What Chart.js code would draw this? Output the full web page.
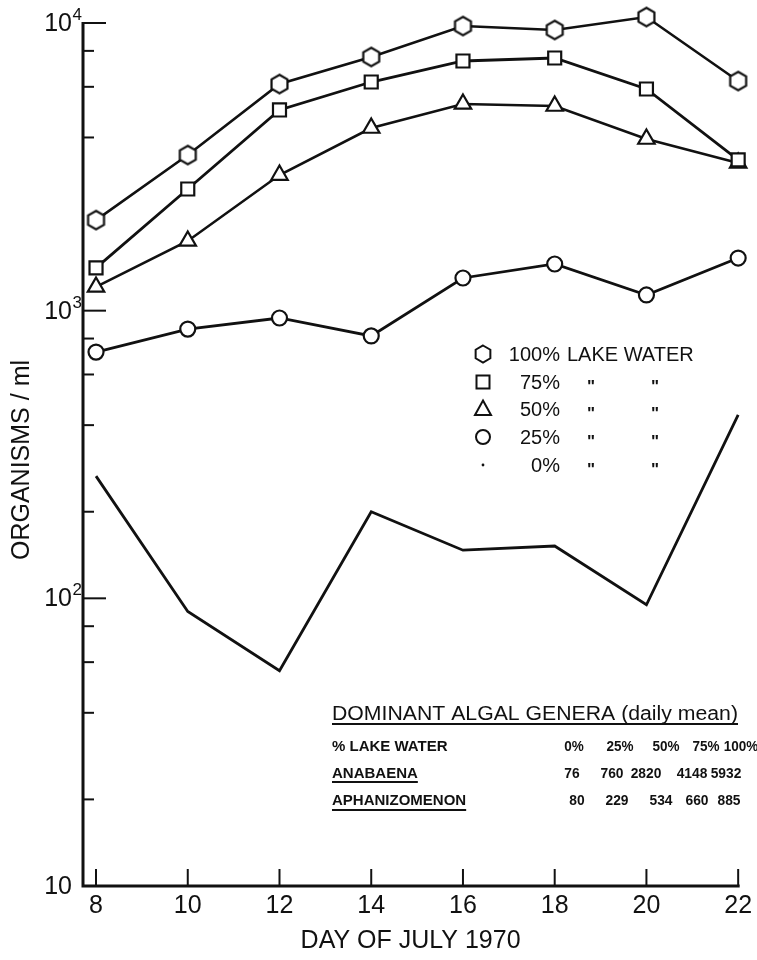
<!DOCTYPE html>
<html>
<head>
<meta charset="utf-8">
<title>Organisms per ml, July 1970</title>
<script src="https://cdn.jsdelivr.net/npm/chart.js@4.4.1/dist/chart.umd.min.js"></script>
<style>
  html, body { margin: 0; padding: 0; background: #ffffff; }
  #wrap { width: 757px; height: 960px; position: relative; }
</style>
</head>
<body>
<div id="wrap"><canvas id="chart" width="757" height="960"></canvas></div>
<script>
// Day of July 1970
const days = [8, 10, 12, 14, 16, 18, 20, 22];

// Organisms / ml by share of lake water in the culture
const lake100 = [2065, 3475, 6135, 7620, 9760, 9456, 10490, 6285];
const lake75  = [1408, 2648, 4985, 6235, 7377, 7556, 5896, 3341];
const lake50  = [1209, 1747, 2961, 4315, 5231, 5147, 3951, 3262];
const lake25  = [718, 863, 943, 817, 1299, 1453, 1134, 1524];
const lake0   = [266, 90, 56, 200, 147, 152, 95, 434];

// Axis ticks
const xTicks = [8, 10, 12, 14, 16, 18, 20, 22];
const yMajor = [10, 100, 1000, 10000];
const yMajorExp = ['', '2', '3', '4'];
const yMinor = [20, 40, 60, 80, 200, 400, 600, 800, 4000, 6000, 8000];

// Legend rows
const legendPct = ['100%', '75%', '50%', '25%', '0%'];
const legendMark = ['hexagon', 'rect', 'triangle', 'circle', 'dot'];

// Dominant algal genera table (daily mean)
const tablePct = ['0%', '25%', '50%', '75%', '100%'];
const anabaena = [76, 760, 2820, 4148, 5932];
const aphanizomenon = [80, 229, 534, 660, 885];

const FONT = '"Liberation Sans", Arial, sans-serif';
const INK = '#111111';

function pts(arr) { return days.map((d, i) => ({ x: d, y: arr[i] })); }

function hexPath(g, cx, cy, r) {
  g.beginPath();
  for (let k = 0; k < 6; k++) {
    const a = -Math.PI / 2 + k * Math.PI / 3;
    const px = cx + r * Math.cos(a), py = cy + r * Math.sin(a);
    if (k === 0) g.moveTo(px, py); else g.lineTo(px, py);
  }
  g.closePath();
}

// Hexagon marker image used as a pointStyle
function hexagonImage(r, lw) {
  const s = Math.ceil(2 * r + lw + 4);
  const c = document.createElement('canvas');
  c.width = s; c.height = s;
  const g = c.getContext('2d');
  hexPath(g, s / 2, s / 2, r);
  g.fillStyle = '#ffffff';
  g.fill();
  g.lineWidth = lw;
  g.strokeStyle = INK;
  g.stroke();
  return c;
}
const hexImg = hexagonImage(9.2, 2.2);

function series(label, arr, style, radius, width) {
  return {
    label: label,
    data: pts(arr),
    borderColor: INK,
    borderWidth: width,
    pointStyle: style,
    pointRadius: radius,
    pointHoverRadius: radius,
    pointBorderWidth: 2.2,
    pointBorderColor: INK,
    pointBackgroundColor: '#ffffff',
    tension: 0,
    clip: false,
    fill: false
  };
}

// Condensed text centred on x
function condensedText(ctx, text, x, y, squeeze) {
  ctx.save();
  ctx.translate(x, y);
  ctx.scale(squeeze, 1);
  ctx.textAlign = 'center';
  ctx.fillText(text, 0, 0);
  ctx.restore();
}

// Axes, labels, legend and table drawn on top of the plot
const decorations = {
  id: 'decorations',
  afterDraw(chart) {
    const ctx = chart.ctx;
    const xs = chart.scales.x, ys = chart.scales.y;
    const area = chart.chartArea;
    const left = area.left, bottom = area.bottom, top = area.top;
    ctx.save();
    ctx.strokeStyle = INK;
    ctx.fillStyle = INK;
    ctx.lineCap = 'butt';

    // axis lines
    ctx.lineWidth = 3;
    ctx.beginPath();
    ctx.moveTo(left, top - 1);
    ctx.lineTo(left, bottom);
    ctx.lineTo(xs.getPixelForValue(22) + 1.5, bottom);
    ctx.stroke();

    // x ticks and labels
    ctx.lineWidth = 2;
    ctx.font = '25px ' + FONT;
    ctx.textAlign = 'center';
    ctx.textBaseline = 'top';
    xTicks.forEach(v => {
      const px = xs.getPixelForValue(v);
      ctx.beginPath();
      ctx.moveTo(px, bottom);
      ctx.lineTo(px, bottom - 17);
      ctx.stroke();
      ctx.fillText(String(v), px, bottom + 8);
    });

    // y ticks
    yMinor.forEach(v => {
      const py = ys.getPixelForValue(v);
      ctx.beginPath();
      ctx.moveTo(left, py);
      ctx.lineTo(left + 11, py);
      ctx.stroke();
    });
    yMajor.forEach((v, i) => {
      const py = ys.getPixelForValue(v);
      ctx.beginPath();
      ctx.moveTo(left, py);
      ctx.lineTo(left + 23, py);
      ctx.stroke();
      ctx.font = '25px ' + FONT;
      ctx.textAlign = 'right';
      ctx.textBaseline = 'middle';
      ctx.fillText('10', 72, py + 1);
      if (yMajorExp[i]) {
        ctx.font = '17px ' + FONT;
        ctx.textAlign = 'left';
        ctx.textBaseline = 'alphabetic';
        ctx.fillText(yMajorExp[i], 72.5, py - 3);
      }
    });

    // axis titles
    ctx.font = '25px ' + FONT;
    ctx.textAlign = 'center';
    ctx.textBaseline = 'middle';
    ctx.fillText('DAY OF JULY 1970', (left + xs.getPixelForValue(22)) / 2, 941);
    ctx.save();
    ctx.translate(22, 460);
    ctx.rotate(-Math.PI / 2);
    ctx.fillText('ORGANISMS / ml', 0, 0);
    ctx.restore();

    // legend
    const lx = 483, rowY = [354, 382, 409, 437, 465];
    legendMark.forEach((m, i) => {
      const y = rowY[i];
      ctx.lineWidth = 2;
      ctx.fillStyle = '#ffffff';
      ctx.beginPath();
      if (m === 'hexagon') hexPath(ctx, lx, y, 8.5);
      else if (m === 'rect') ctx.rect(lx - 6.5, y - 6.5, 13, 13);
      else if (m === 'triangle') { ctx.moveTo(lx, y - 8.5); ctx.lineTo(lx + 8, y + 6); ctx.lineTo(lx - 8, y + 6); ctx.closePath(); }
      else if (m === 'circle') ctx.arc(lx, y, 7, 0, Math.PI * 2);
      if (m !== 'dot') { ctx.fill(); ctx.stroke(); }
      ctx.fillStyle = INK;
      if (m === 'dot') { ctx.beginPath(); ctx.arc(lx, y, 1.4, 0, Math.PI * 2); ctx.fill(); }
      ctx.font = '20px ' + FONT;
      ctx.textAlign = 'right';
      ctx.textBaseline = 'middle';
      ctx.fillText(legendPct[i], 560, y + 1);
      if (i === 0) {
        ctx.textAlign = 'left';
        ctx.fillText('LAKE WATER', 567, y + 1);
      } else {
        ctx.font = 'bold 17px ' + FONT;
        ctx.textAlign = 'center';
        ctx.textBaseline = 'alphabetic';
        ctx.fillText('"', 591, y + 10);
        ctx.fillText('"', 655, y + 10);
      }
    });

    // table of dominant genera
    ctx.fillStyle = INK;
    ctx.textBaseline = 'alphabetic';
    ctx.font = '20px ' + FONT;
    ctx.textAlign = 'left';
    const title = 'DOMINANT ALGAL GENERA (daily mean)';
    const tw = ctx.measureText(title).width;
    ctx.save();
    ctx.translate(332, 720);
    ctx.scale(406 / tw, 1);
    ctx.fillText(title, 0, 0);
    ctx.restore();
    ctx.lineWidth = 2;
    ctx.beginPath(); ctx.moveTo(332, 724); ctx.lineTo(738, 724); ctx.stroke();

    ctx.font = 'bold 15px ' + FONT;
    ctx.fillText('% LAKE WATER', 332, 751);
    ctx.fillText('ANABAENA', 332, 778);
    ctx.fillText('APHANIZOMENON', 332, 805);
    ctx.lineWidth = 1.8;
    ctx.beginPath();
    ctx.moveTo(332, 782); ctx.lineTo(332 + ctx.measureText('ANABAENA').width, 782);
    ctx.moveTo(332, 810); ctx.lineTo(332 + ctx.measureText('APHANIZOMENON').width, 810);
    ctx.stroke();

    ctx.font = 'bold 15px ' + FONT;
    const hdrX = [574, 620, 666, 706, 741];
    const anaX = [572, 612, 646, 692, 726];
    const aphX = [577, 617, 661, 697, 729];
    tablePct.forEach((t, i) => condensedText(ctx, t, hdrX[i], 751, 0.9));
    anabaena.forEach((v, i) => condensedText(ctx, String(v), anaX[i], 778, 0.92));
    aphanizomenon.forEach((v, i) => condensedText(ctx, String(v), aphX[i], 805, 0.92));

    ctx.restore();
  }
};

new Chart(document.getElementById('chart'), {
  type: 'line',
  data: {
    datasets: [
      series('100% lake water', lake100, hexImg, 9, 2.6),
      series('75%', lake75, 'rect', 9.2, 2.8),
      series('50%', lake50, 'triangle', 9.5, 2.6),
      series('25%', lake25, 'circle', 7.5, 2.8),
      series('0%', lake0, 'circle', 0, 2.8)
    ]
  },
  options: {
    responsive: false,
    devicePixelRatio: 1,
    animation: false,
    layout: { padding: { left: 83, right: 17, top: 23, bottom: 74 } },
    scales: {
      x: { type: 'linear', min: 7.716, max: 22.04, display: false },
      y: { type: 'logarithmic', min: 10, max: 10000, display: false }
    },
    plugins: {
      legend: { display: false },
      tooltip: { enabled: false }
    },
    events: []
  },
  plugins: [decorations]
});
</script>
</body>
</html>
